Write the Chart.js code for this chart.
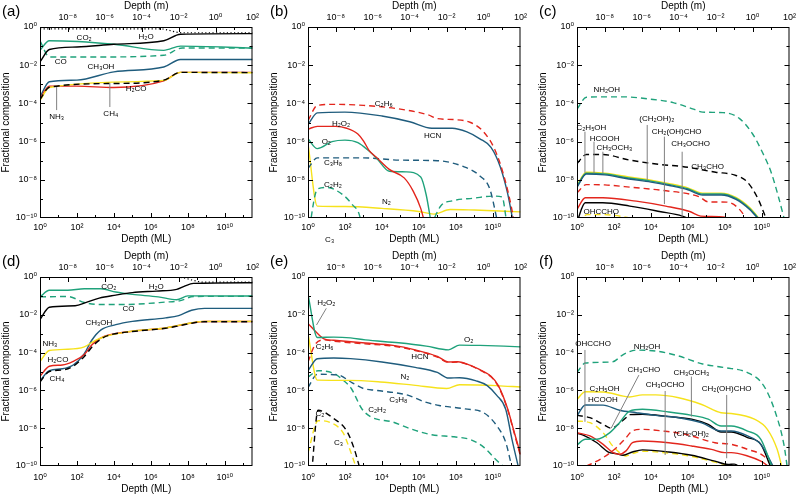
<!DOCTYPE html>
<html>
<head>
<meta charset="utf-8">
<script src="https://cdn.jsdelivr.net/npm/chart.js@4.4.1/dist/chart.umd.min.js"></script>
<style>
  body { margin: 0; background: #fff; width: 800px; height: 495px; position: relative; overflow: hidden; }
  canvas { position: absolute; }
</style>
</head>
<body>
<canvas id="pa" width="263" height="245" style="left:0;top:0"></canvas>
<canvas id="pb" width="263" height="245" style="left:268px;top:0"></canvas>
<canvas id="pc" width="263" height="245" style="left:537px;top:0"></canvas>
<canvas id="pd" width="263" height="245" style="left:0;top:250px"></canvas>
<canvas id="pe" width="263" height="245" style="left:268px;top:250px"></canvas>
<canvas id="pf" width="263" height="245" style="left:537px;top:250px"></canvas>
<script>
// axis ticks
const mlTicks = [1, 1e2, 1e4, 1e6, 1e8, 1e10];
const mlMinor = [1e1, 1e3, 1e5, 1e7, 1e9, 1e11];
const mTicks = [1e-8, 1e-6, 1e-4, 1e-2, 1, 1e2];
const mMinor = [1e-9, 1e-7, 1e-5, 1e-3, 1e-1, 1e1];
const fracTicks = [1e-10, 1e-8, 1e-6, 1e-4, 1e-2, 1];
const fracMinor = [1e-9, 1e-7, 1e-5, 1e-3, 1e-1];

// series: [depth (ML), fractional composition]
// (a)
const totA = [[1, 0.8], [3e6, 0.8], [5e7, 0.5], [3.2e11, 0.5]];
const h2oA = [[1, 1.5e-2], [3.2, 6.6e-2], [100, 9e-2], [1e4, 0.125], [5e6, 0.19], [4e7, 0.42], [3.2e11, 0.45]];
const co2A = [[1, 6e-2], [3.2, 0.19], [1e4, 0.125], [5e6, 6e-2], [4e7, 0.1], [3.2e11, 8e-2]];
const coA = [[1, 0.19], [3.2, 2.7e-2], [1.5e3, 2.7e-2], [5e6, 3.3e-2], [5e7, 8e-2], [3.2e11, 8e-2]];
const ch3ohA = [[1, 2.2e-4], [3.2, 1.35e-3], [100, 1.65e-3], [1e4, 4.5e-3], [5e6, 8e-3], [4e7, 2e-2], [3.2e11, 2e-2]];
const h2coA = [[1, 1.8e-4], [3.2, 8e-4], [100, 8e-4], [1e4, 6.8e-4], [5e6, 1.5e-3], [4e7, 4.2e-3], [3.2e11, 4.2e-3]];
const nh3A = [[1, 1.4e-4], [3.2, 6.8e-4], [5e6, 1.6e-3], [4e7, 4.2e-3], [3.2e11, 4e-3]];
const ch4A = [[1, 1.6e-4], [3.2, 7e-4], [1e4, 1.1e-3], [5e6, 1.65e-3], [4e7, 4.2e-3], [3.2e11, 4.1e-3]];

// (b)
const c2h6B = [[1, 1.26e-5], [3.2, 7.9e-5], [32, 8.9e-5], [1e3, 7.9e-5], [1e5, 5e-5], [3.2e6, 2.5e-5], [1e7, 1.6e-5], [1e8, 1.4e-5], [6.3e8, 1e-5], [3.2e9, 3.2e-6], [1.26e10, 4e-7], [4e10, 1.6e-8], [1e11, 4e-10], [1.6e11, 3.2e-11]];
const hcnB = [[1, 7.9e-6], [3.2, 3.2e-5], [100, 3.5e-5], [1e4, 2.2e-5], [3.2e5, 1.1e-5], [5e6, 5e-6], [6.3e7, 5e-6], [4e8, 3.2e-6], [2e9, 1.4e-6], [8e9, 5e-7], [2.5e10, 5e-8], [6.3e10, 2e-9], [1.26e11, 6.3e-11]];
const h2o2B = [[1, 4.5e-6], [3.2, 6.3e-6], [32, 6.3e-6], [125, 5e-6], [500, 2.5e-6], [1e3, 1.1e-6], [2e3, 3.5e-7], [5e3, 1.5e-7], [2.5e4, 3.5e-8], [1.6e5, 1.26e-8], [5e5, 2.5e-9], [1.26e6, 3.2e-10], [2e6, 6.3e-11]];
const o2B = [[1, 1.4e-6], [3.2, 4.3e-7], [20, 1e-6], [100, 1.2e-6], [500, 8.9e-7], [2e3, 3.2e-7], [5e3, 1.4e-7], [2.5e4, 2.8e-8], [2e5, 2.6e-8], [1.26e6, 1.4e-8], [2.5e6, 1.6e-9], [4.5e6, 6.3e-11]];
const c3h8B = [[1, 4e-8], [3.2, 1.4e-7], [1e3, 1.4e-7], [1e5, 1.07e-7], [1e7, 1e-7], [2.5e8, 5e-8], [2e9, 1.6e-8], [7e9, 3.2e-9], [1.8e10, 6.3e-11]];
const c2h2B = [[1, 1e-11], [3.2, 3.2e-9], [10, 4e-9], [80, 1.6e-9], [250, 5e-10], [630, 1.26e-10], [1e3, 1e-11], [2.5e6, 1e-11], [5.6e6, 6.3e-11], [1.6e7, 4.5e-10], [6.3e7, 7.9e-10], [1e9, 1.1e-9], [1e10, 1.4e-9], [3.2e10, 1.26e-9], [5.6e10, 6.3e-11]];
const n2B = [[1, 7.9e-7], [3.2, 4.2e-10], [100, 4e-10], [1e4, 3.2e-10], [1e6, 2.2e-10], [6.3e6, 1.6e-10], [5e7, 2.8e-10], [1e9, 2.6e-10], [3.2e11, 2.1e-10]];

// (c)
const nh2ohC = [[1, 5e-5], [3.2, 2.1e-4], [32, 2.2e-4], [320, 2.2e-4], [1e4, 1.66e-4], [1.6e5, 1.1e-4], [2e6, 5e-5], [6.3e6, 3.5e-5], [8e7, 3.3e-5], [6.3e8, 1.6e-5], [3.2e9, 2.5e-6], [1e10, 3.2e-7], [3.2e10, 2.5e-8], [8e10, 1.26e-9], [1.8e11, 6.3e-11]];
const ch3choC = [[1, 7e-8], [3.2, 2.1e-7], [25, 2.1e-7], [630, 1.1e-7], [3.2e4, 6.3e-8], [5e5, 5e-8], [3.2e7, 2.5e-8], [3.2e8, 1.8e-8], [1.6e9, 7.9e-9], [6.3e9, 1e-9], [2e10, 6.3e-11]];
const c2h5ohC = [[1, 5.2e-9], [3.2, 2.5e-8], [32, 2.2e-8], [630, 1.4e-8], [1e4, 9.5e-9], [1e5, 6.3e-9], [1e6, 3.8e-9], [6.3e6, 2e-9], [6.3e7, 2e-9], [4e8, 1.2e-9], [2.2e9, 3.5e-10], [1e10, 6.3e-11]];
const ch3och3C = [[1, 4.6e-9], [3.2, 2.2e-8], [32, 2e-8], [630, 1.25e-8], [1e4, 8.5e-9], [1e5, 5.6e-9], [1e6, 3.4e-9], [6.3e6, 1.8e-9], [6.3e7, 1.8e-9], [4e8, 1.07e-9], [2.2e9, 3.1e-10], [9.5e9, 6.3e-11]];
const hcoohC = [[1, 4.1e-9], [3.2, 2e-8], [32, 1.8e-8], [630, 1.1e-8], [1e4, 7.6e-9], [1e5, 5e-9], [1e6, 3e-9], [6.3e6, 1.6e-9], [6.3e7, 1.6e-9], [4e8, 9.5e-10], [2.2e9, 2.8e-10], [9e9, 6.3e-11]];
const glycolC = [[1, 2.1e-9], [3.2, 5.6e-9], [32, 5.4e-9], [1e3, 4e-9], [4e4, 2.8e-9], [4e6, 1.3e-9], [1.26e7, 7e-10], [1.26e8, 6.8e-10], [5e8, 3.5e-10], [2e9, 6.3e-11]];
const ch3ochoC = [[1, 2.8e-10], [2.8, 1.15e-9], [25, 1.15e-9], [1.6e3, 7.6e-10], [6.3e4, 4.2e-10], [1.26e6, 2.2e-10], [5e6, 1.26e-10], [1e8, 1.1e-10], [2.5e8, 6.3e-11]];
const glycolaldC = [[1, 6.3e-11], [2.8, 6.3e-10], [25, 6.3e-10], [720, 4.2e-10], [2.9e4, 2.2e-10], [5e5, 1.26e-10], [2.7e6, 6.3e-11]];
const ohcchoC = [[1.26, 5e-11], [3.5, 1.5e-10], [25, 1.5e-10], [720, 1.02e-10], [5.6e3, 6.3e-11]];

// (d)
const totD = [[1, 0.95], [3e7, 0.95], [8e8, 0.53], [3.2e11, 0.53]];
const h2oD = [[1, 5.6e-3], [3.2, 2.5e-2], [80, 3e-2], [320, 4.5e-2], [1.6e3, 7.6e-2], [1.26e4, 0.11], [1e5, 0.15], [2e6, 0.18], [2.5e7, 0.22], [6.3e7, 0.32], [2e8, 0.46], [3.2e11, 0.5]];
const co2D = [[1, 8.9e-2], [3.2, 0.2], [32, 0.2], [250, 0.24], [2e3, 0.24], [1.26e4, 0.16], [1e5, 0.12], [2.5e6, 8.9e-2], [2.5e7, 6.3e-2], [1e8, 0.1], [3.2e11, 9.8e-2]];
const coD = [[1, 8.9e-2], [32, 9.3e-2], [250, 4.5e-2], [1.6e3, 3.5e-2], [3.2e4, 3.5e-2], [6.3e6, 4.7e-2], [4e7, 5.6e-2], [2e8, 9.3e-2], [3.2e11, 9.5e-2]];
const ch3ohD = [[1, 3.2e-6], [3.2, 1.1e-5], [16, 1.4e-5], [63, 2.2e-5], [250, 8.9e-5], [630, 4.5e-4], [2e3, 1.6e-3], [1.26e4, 3e-3], [1e5, 4.5e-3], [6.3e6, 6.9e-3], [3.2e7, 9.1e-3], [1.6e8, 1.74e-2], [8e8, 2.2e-2], [3.2e11, 2.2e-2]];
const h2coD = [[1, 5.6e-6], [3.2, 1.9e-5], [16, 2.2e-5], [63, 3.4e-5], [250, 7.9e-5], [630, 2.5e-4], [2e3, 6e-4], [6.3e3, 8.9e-4], [1e5, 1.35e-3], [6.3e6, 2e-3], [3.2e7, 2.7e-3], [1.6e8, 3.7e-3], [8e8, 4.4e-3], [3.2e11, 4.4e-3]];
const nh3D = [[1, 3.4e-5], [3.2, 1.3e-4], [32, 1.5e-4], [250, 2e-4], [1e3, 4.5e-4], [4e3, 7.6e-4], [1e5, 1.38e-3], [6.3e6, 2e-3], [3.2e7, 2.75e-3], [1.6e8, 3.8e-3], [8e8, 4.5e-3], [3.2e11, 4.5e-3]];
const ch4D = [[1, 2.8e-6], [3.2, 1e-5], [16, 1.2e-5], [63, 1.9e-5], [250, 6.3e-5], [800, 2.5e-4], [2.5e3, 6e-4], [6.3e3, 8.7e-4], [1e5, 1.3e-3], [6.3e6, 1.95e-3], [3.2e7, 2.6e-3], [1.6e8, 3.6e-3], [8e8, 4.3e-3], [3.2e11, 4.3e-3]];

// (e)
const o2E = [[1, 0.12], [3.2, 6.3e-4], [25, 6.6e-4], [200, 6e-4], [1.26e3, 4.7e-4], [8e4, 3.3e-4], [2.5e6, 2.2e-4], [4e7, 1.4e-4], [1.6e8, 2.5e-4], [2e9, 2.4e-4], [4e10, 2.2e-4], [3.2e11, 2e-4]];
const h2o2E = [[1, 3.5e-3], [3.2, 1.05e-3], [8, 5.2e-4], [25, 4.5e-4], [1.26e3, 3.2e-4], [4e4, 2.4e-4], [6.3e5, 1.4e-4], [1e7, 6.3e-5], [4e7, 3.2e-5], [1.26e8, 3.3e-5], [6.3e8, 2.1e-5], [2.5e9, 1.1e-5], [8e9, 5.6e-6], [2e10, 1.8e-6], [6.3e10, 1.1e-7], [1.26e11, 1e-8], [3.2e11, 4e-10]];
const c2h6E = [[1, 3.2e-5], [2.5, 2.8e-4], [8, 4.7e-4], [25, 4e-4], [1.26e3, 2.9e-4], [4e4, 2.2e-4], [6.3e5, 1.3e-4], [1e7, 5.8e-5], [4e7, 3e-5], [1.26e8, 3.2e-5], [6.3e8, 2e-5], [2.5e9, 1.07e-5], [8e9, 5.2e-6], [2e10, 1.6e-6], [6.3e10, 1e-7], [1.26e11, 8.9e-9], [3.2e11, 3.2e-10]];
const hcnE = [[1, 1.1e-5], [3.2, 4.7e-5], [25, 5.2e-5], [200, 4.8e-5], [1e4, 3.2e-5], [6.3e5, 1.66e-5], [1e7, 8.9e-6], [4e7, 4.5e-6], [1.6e8, 4.7e-6], [1.26e9, 3.2e-6], [5e9, 1.8e-6], [1.6e10, 5.6e-7], [5e10, 1e-7], [1.1e11, 2.5e-9], [2.5e11, 7.9e-11]];
const n2E = [[1, 1e-3], [3.2, 3.5e-6], [160, 3.4e-6], [8e3, 2.8e-6], [5e5, 1.9e-6], [3.2e7, 1.26e-6], [1.6e8, 2e-6], [1.6e10, 1.8e-6], [3.2e11, 1.5e-6]];
const c3h8E = [[1, 1.4e-6], [3.2, 7.1e-6], [40, 6.6e-6], [250, 2.5e-6], [1e3, 1.26e-6], [5e3, 1e-6], [2.5e5, 5.6e-7], [2e6, 2.5e-7], [1.26e7, 1.6e-7], [3.2e8, 1.05e-7], [3.2e9, 6.6e-8], [1.6e10, 1.4e-8], [5e10, 1.8e-9], [1.1e11, 7.9e-11]];
const c2h2E = [[1, 5e-6], [3.5, 1.1e-5], [28, 7.6e-6], [63, 4.2e-6], [220, 1.26e-6], [800, 1.1e-7], [2.5e3, 4e-8], [4e4, 2.1e-8], [4e5, 8.9e-9], [5e6, 4.5e-9], [8e7, 3.5e-9], [6.3e8, 2.5e-9], [3.2e9, 1e-9], [1.6e10, 2e-10], [6.3e10, 6.3e-11]];
const c2E = [[1.6, 5e-11], [3.5, 8.9e-8], [25, 3.2e-8], [125, 7.1e-9], [320, 7.9e-10], [630, 7.9e-11]];
const c3E = [[1, 5e-10], [3.5, 2.5e-8], [16, 2e-8], [80, 5.6e-9], [180, 7.9e-10], [320, 1.6e-10], [450, 6.3e-11]];

// (f)
const nh2ohF = [[1, 8.9e-6], [2.8, 2.8e-5], [80, 3.2e-5], [320, 7.9e-5], [1.6e3, 1.35e-4], [2e4, 1.2e-4], [3.2e5, 6.6e-5], [6.3e6, 2.5e-5], [1e8, 1.6e-5], [1.6e9, 8.9e-6], [1.26e10, 1.8e-6], [5.6e10, 6.3e-8], [1.6e11, 1.26e-9], [2.5e11, 6.3e-11]];
const c2h5ohF = [[1, 3.4e-7], [2.8, 8.5e-7], [26, 8.3e-7], [320, 5e-7], [700, 4.5e-7], [3.5e3, 5.8e-7], [1.8e4, 5.8e-7], [3.2e5, 4.1e-7], [5.6e6, 1.8e-7], [6.3e7, 6.6e-8], [2.2e8, 6e-8], [4e9, 3e-8], [2e10, 8.7e-9], [6.8e10, 7.6e-10], [1.26e11, 7.9e-11]];
const hcoohF = [[1, 4.5e-8], [2.8, 1.7e-7], [26, 1.66e-7], [200, 8.9e-8], [1.6e3, 6.6e-8], [1.8e4, 4.8e-8], [3.2e5, 3.6e-8], [5.6e6, 1.95e-8], [6.3e7, 7.1e-9], [2.2e8, 7.1e-9], [1.7e9, 3.9e-9], [8.9e9, 1.4e-9], [4.6e10, 7.9e-11]];
const ch3och3F = [[1, 1.3e-9], [2.8, 2.6e-9], [12, 2.6e-9], [60, 5.8e-9], [200, 1.95e-8], [700, 8.1e-8], [3.5e3, 1e-7], [9.3e4, 7.2e-8], [1.6e6, 4.8e-8], [1.26e7, 3e-8], [6.3e7, 1.3e-8], [2.2e8, 1.3e-8], [1.7e9, 7.1e-9], [8.9e9, 2.6e-9], [3.7e10, 7.9e-11]];
const ch3choF = [[1, 4.8e-8], [5, 3.6e-8], [26, 1.6e-8], [72, 1e-8], [250, 2.2e-8], [700, 5.2e-8]];
const ch3ochoF = [[700, 5.2e-8], [3.5e3, 5.5e-8], [9.3e4, 4.1e-8], [1.6e6, 3e-8], [1.26e7, 1.6e-8], [6.3e7, 6.3e-9], [2.2e8, 6.3e-9], [1.7e9, 3.2e-9], [8.9e9, 1.4e-9], [3.2e10, 7.9e-11]];
const glycolF = [[1, 6.3e-11], [5, 1.2e-10], [26, 2.8e-10], [135, 9.3e-10], [380, 2.6e-9], [1e3, 7.1e-9], [3.5e3, 8.7e-9], [4.2e4, 7.1e-9], [7.2e5, 4.8e-9], [2.9e7, 1.7e-9], [2.2e8, 1.4e-9], [1.7e9, 7.6e-10], [1.26e10, 3.4e-10], [4.6e10, 7.9e-11]];
const glycolaldF = [[1, 5.8e-9], [5, 3.9e-9], [26, 1.4e-9], [90, 5.1e-10], [200, 4.2e-10], [450, 6.3e-10], [1e3, 1.7e-9], [3.5e3, 2.1e-9], [9.3e4, 1.7e-9], [1.6e6, 1.15e-9], [1.9e7, 7.6e-10], [1e8, 5.1e-10], [2.2e8, 5.1e-10], [1.7e9, 3.4e-10], [8.9e9, 1.8e-10], [3e10, 7.9e-11]];
const lowBlackF = [[1, 5.4e-9], [2.3, 4.2e-9], [12, 1.7e-9], [50, 5.5e-10], [135, 4.5e-10], [310, 3.7e-10], [1e3, 5.5e-10], [3.5e3, 7.1e-10], [9.3e4, 5.5e-10], [1.6e6, 3.7e-10], [2.9e7, 1.8e-10], [1.5e8, 1.2e-10], [3.2e8, 1.26e-10], [7.6e8, 7.9e-11]];
const ohcchoF = [[1, 2.4e-8], [5, 1.95e-8], [26, 5.8e-9], [72, 1.4e-9], [200, 5.1e-10], [450, 3.4e-10], [1e3, 4.5e-10], [3.5e3, 6e-10], [9.3e4, 4.8e-10], [1.6e6, 3.2e-10], [2.9e7, 1.6e-10], [1.6e8, 1e-10], [4e8, 6.3e-11]];

const GREEN = '#1fa27b', BLUE = '#1f5c7d', RED = '#e3261d', YELLOW = '#f6e21c', BLACK = '#000000';
const FONT = '"Liberation Sans", "DejaVu Sans", sans-serif';

// labels and leader lines, in decades (log10 depth, log10 fraction)
const panels = [
  { id: 'pa', letter: '(a)', row: 0,
    series: [['Total', totA, BLACK, 'dot'], ['CO₂', co2A, GREEN, 'solid'], ['CO', coA, GREEN, 'dash'], ['H₂O', h2oA, BLACK, 'solid'],
      ['CH₃OH', ch3ohA, BLUE, 'solid'], ['H₂CO', h2coA, RED, 'solid'], ['NH₃', nh3A, YELLOW, 'solid'], ['CH₄', ch4A, BLACK, 'dash']],
    notes: [['CO₂', 2.39, -0.58], ['H₂O', 5.74, -0.52], ['CO', 1.12, -1.83], ['CH₃OH', 3.3, -2.09], ['H₂CO', 5.2, -3.25], ['NH₃', 0.9, -4.71], ['CH₄', 3.83, -4.55]],
    leaders: [[0.9, -3.14, 0.9, -4.35], [3.78, -2.93, 3.78, -4.19]] },
  { id: 'pb', letter: '(b)', row: 0,
    series: [['N₂', n2B, YELLOW, 'solid'], ['C₂H₂', c2h2B, GREEN, 'dash'], ['C₃H₈', c3h8B, BLUE, 'dash'], ['O₂', o2B, GREEN, 'solid'],
      ['H₂O₂', h2o2B, RED, 'solid'], ['HCN', hcnB, BLUE, 'solid'], ['C₂H₆', c2h6B, RED, 'dash']],
    notes: [['C₂H₆', 4.1, -4.03], ['H₂O₂', 1.79, -5.08], ['HCN', 6.75, -5.7], ['O₂', 0.99, -6.0], ['C₃H₈', 1.35, -7.1], ['C₂H₂', 1.35, -8.27], ['N₂', 4.24, -9.15], ['C₃', 1.17, -11.15]],
    leaders: [] },
  { id: 'pc', letter: '(c)', row: 0,
    series: [['OHCCHO', ohcchoC, YELLOW, 'dash'], ['CH₂(OH)CHO', glycolaldC, BLACK, 'solid'], ['CH₃OCHO', ch3ochoC, RED, 'solid'], ['(CH₂OH)₂', glycolC, RED, 'dash'],
      ['C₂H₅OH', c2h5ohC, YELLOW, 'solid'], ['CH₃OCH₃', ch3och3C, GREEN, 'solid'], ['HCOOH', hcoohC, BLUE, 'solid'], ['CH₃CHO', ch3choC, BLACK, 'dash'], ['NH₂OH', nh2ohC, GREEN, 'dash']],
    notes: [['NH₂OH', 1.61, -3.3], ['C₂H₅OH', 0.78, -5.27], ['HCOOH', 1.49, -5.83], ['CH₃OCH₃', 2.02, -6.35], ['(CH₂OH)₂', 4.32, -4.82], ['CH₂(OH)CHO', 5.39, -5.51], ['CH₃OCHO', 6.15, -6.14], ['CH₃CHO', 7.07, -7.31], ['OHCCHO', 1.31, -9.67]],
    leaders: [[0.43, -5.48, 0.43, -7.63], [0.92, -6.0, 0.92, -7.66], [1.4, -6.53, 1.4, -7.66], [3.8, -5.13, 3.8, -8.0], [4.73, -5.74, 4.73, -9.27], [5.69, -6.53, 5.69, -9.93]] },
  { id: 'pd', letter: '(d)', row: 1,
    series: [['Total', totD, BLACK, 'dot'], ['CO₂', co2D, GREEN, 'solid'], ['CO', coD, GREEN, 'dash'], ['H₂O', h2oD, BLACK, 'solid'],
      ['CH₃OH', ch3ohD, BLUE, 'solid'], ['H₂CO', h2coD, RED, 'solid'], ['NH₃', nh3D, YELLOW, 'solid'], ['CH₄', ch4D, BLACK, 'dash']],
    notes: [['CO₂', 3.72, -0.51], ['H₂O', 6.29, -0.51], ['CO', 4.79, -1.69], ['CH₃OH', 3.19, -2.4], ['NH₃', 0.53, -3.51], ['H₂CO', 0.97, -4.36], ['CH₄', 0.92, -5.36]],
    leaders: [] },
  { id: 'pe', letter: '(e)', row: 1,
    series: [['C₃', c3E, YELLOW, 'dash'], ['C₂', c2E, BLACK, 'dash'], ['C₂H₂', c2h2E, GREEN, 'dash'], ['C₃H₈', c3h8E, BLUE, 'dash'], ['N₂', n2E, YELLOW, 'solid'],
      ['HCN', hcnE, BLUE, 'solid'], ['C₂H₆', c2h6E, RED, 'dash'], ['H₂O₂', h2o2E, RED, 'solid'], ['O₂', o2E, GREEN, 'solid']],
    notes: [['H₂O₂', 0.99, -1.36], ['C₂H₆', 0.9, -3.69], ['HCN', 6.05, -4.22], ['O₂', 8.7, -3.3], ['N₂', 5.25, -5.27], ['C₃H₈', 4.89, -6.51], ['C₂H₂', 3.74, -7.04], ['C₂', 0.64, -7.25], ['C₃', 1.65, -8.77]],
    leaders: [[0.99, -1.66, 0.46, -2.54]] },
  { id: 'pf', letter: '(f)', row: 1,
    series: [['OHCCHO', ohcchoF, YELLOW, 'dash'], ['CH₂(OH)CHO', lowBlackF, BLACK, 'solid'], ['CH₃OCHO', glycolaldF, RED, 'solid'], ['(CH₂OH)₂', glycolF, RED, 'dash'],
      ['CH₃CHO', ch3choF, BLACK, 'dash'], ['CH₃CHO ', ch3ochoF, BLACK, 'solid'], ['HCOOH', hcoohF, BLUE, 'solid'], ['CH₃OCH₃', ch3och3F, GREEN, 'solid'],
      ['C₂H₅OH', c2h5ohF, YELLOW, 'solid'], ['NH₂OH', nh2ohF, GREEN, 'dash']],
    notes: [['OHCCHO', 0.87, -3.56], ['NH₂OH', 3.79, -3.69], ['CH₃CHO', 3.62, -4.92], ['C₂H₅OH', 1.49, -5.89], ['HCOOH', 1.4, -6.51], ['CH₃OCHO', 4.77, -5.71], ['CH₃OCH₃', 6.19, -5.06], ['CH₂(OH)CHO', 8.1, -5.89], ['(CH₂OH)₂', 6.19, -8.32]],
    leaders: [[0.43, -3.86, 0.43, -7.66], [3.35, -5.19, 1.85, -8.0], [4.77, -6.03, 4.77, -9.42], [6.19, -5.27, 6.19, -7.39], [8.1, -6.24, 8.1, -9.59]] }
];

const SUP = { '-': '⁻', '0': '⁰', '1': '¹', '2': '²', '3': '³', '4': '⁴', '5': '⁵', '6': '⁶', '7': '⁷', '8': '⁸', '9': '⁹' };
function pow10(v) {
  const e = String(Math.round(Math.log10(v)));
  return '10' + e.split('').map(c => SUP[c]).join('');
}

const decor = {
  id: 'decor',
  afterDatasetsDraw(chart, args, opts) {
    const { ctx, chartArea: a, scales } = chart;
    const x = scales.x, x2 = scales.x2, y = scales.y;
    const seg = (x1, y1, xx, yy) => { ctx.beginPath(); ctx.moveTo(x1, y1); ctx.lineTo(xx, yy); ctx.stroke(); };
    ctx.save();
    ctx.strokeStyle = '#000';
    ctx.lineWidth = 1;
    ctx.strokeRect(a.left + 0.5, a.top + 0.5, a.right - a.left - 1, a.bottom - a.top - 1);

    [[mlTicks, 5], [mlMinor, 3]].forEach(([vals, len]) => vals.forEach(v => {
      const px = Math.round(x.getPixelForValue(v)) + 0.5;
      if (px > a.left + 1 && px < a.right - 1) seg(px, a.bottom, px, a.bottom - len);
    }));
    [[mTicks, 5], [mMinor, 3]].forEach(([vals, len]) => vals.forEach(v => {
      const px = Math.round(x2.getPixelForValue(v)) + 0.5;
      if (px > a.left + 1 && px < a.right - 1) seg(px, a.top, px, a.top + len);
    }));
    [[fracTicks, 5], [fracMinor, 3]].forEach(([vals, len]) => vals.forEach(v => {
      const py = Math.round(y.getPixelForValue(v)) + 0.5;
      if (py > a.top + 1 && py < a.bottom - 1) {
        seg(a.left, py, a.left + len, py);
        seg(a.right, py, a.right - len, py);
      }
    }));

    ctx.strokeStyle = '#808080';
    opts.leaders.forEach(([lx1, ly1, lx2, ly2]) => {
      seg(x.getPixelForValue(10 ** lx1), y.getPixelForValue(10 ** ly1), x.getPixelForValue(10 ** lx2), y.getPixelForValue(10 ** ly2));
    });

    ctx.fillStyle = '#000';
    ctx.font = '8px ' + FONT;
    ctx.textAlign = 'center';
    ctx.textBaseline = 'middle';
    opts.notes.forEach(([t, nx, ny]) => ctx.fillText(t, x.getPixelForValue(10 ** nx), y.getPixelForValue(10 ** ny)));

    ctx.font = '15px ' + FONT;
    ctx.textAlign = 'left';
    ctx.fillText(opts.letter, 2, 12);
    ctx.restore();
  }
};

Chart.defaults.font.family = FONT;
Chart.defaults.color = '#000';

panels.forEach(p => {
  const bottomH = p.row === 0 ? 27 : 29;
  const tickFont = { size: 9 };
  const titleFont = { size: 10 };
  new Chart(document.getElementById(p.id), {
    type: 'line',
    data: {
      datasets: p.series.map(([label, pts, color, style], i) => ({
        label,
        data: pts.map(([d, f]) => ({ x: d, y: f })),
        borderColor: color,
        borderWidth: style === 'dot' ? 1.2 : 1.4,
        borderDash: style === 'dash' ? [6, 4] : style === 'dot' ? [1.2, 2.4] : [],
        pointRadius: 0,
        fill: false,
        cubicInterpolationMode: 'monotone',
        order: -i
      }))
    },
    options: {
      responsive: false,
      animation: false,
      layout: { padding: { left: 0, right: 7, top: 0, bottom: 0 } },
      plugins: {
        legend: { display: false },
        tooltip: { enabled: false },
        decor: { notes: p.notes, leaders: p.leaders, letter: p.letter }
      },
      scales: {
        x: {
          type: 'logarithmic', position: 'bottom', min: 1, max: 3.16e11,
          afterBuildTicks: s => { s.ticks = mlTicks.map(v => ({ value: v })); },
          afterFit: s => { s.height = bottomH; },
          ticks: { callback: v => pow10(v), font: tickFont, padding: p.row === 0 ? 4 : 6, autoSkip: false, maxRotation: 0 },
          grid: { display: false, drawTicks: false },
          border: { display: false },
          title: { display: true, text: 'Depth (ML)', font: titleFont, padding: 0 }
        },
        x2: {
          type: 'logarithmic', position: 'top', min: 3.16e-10, max: 100,
          afterBuildTicks: s => { s.ticks = mTicks.map(v => ({ value: v })); },
          afterFit: s => { s.height = 27; },
          ticks: { callback: v => pow10(v), font: tickFont, padding: 4, autoSkip: false, maxRotation: 0 },
          grid: { display: false, drawTicks: false },
          border: { display: false },
          title: { display: true, text: 'Depth (m)', font: titleFont, padding: 0 }
        },
        y: {
          type: 'logarithmic', position: 'left', min: 1e-10, max: 1,
          afterBuildTicks: s => { s.ticks = fracTicks.map(v => ({ value: v })); },
          afterFit: s => { s.width = 40; },
          ticks: { callback: v => pow10(v), font: tickFont, padding: 3, autoSkip: false },
          grid: { display: false, drawTicks: false },
          border: { display: false },
          title: { display: true, text: 'Fractional composition', font: titleFont, padding: 0 }
        }
      }
    },
    plugins: [decor]
  });
});
</script>
</body>
</html>
